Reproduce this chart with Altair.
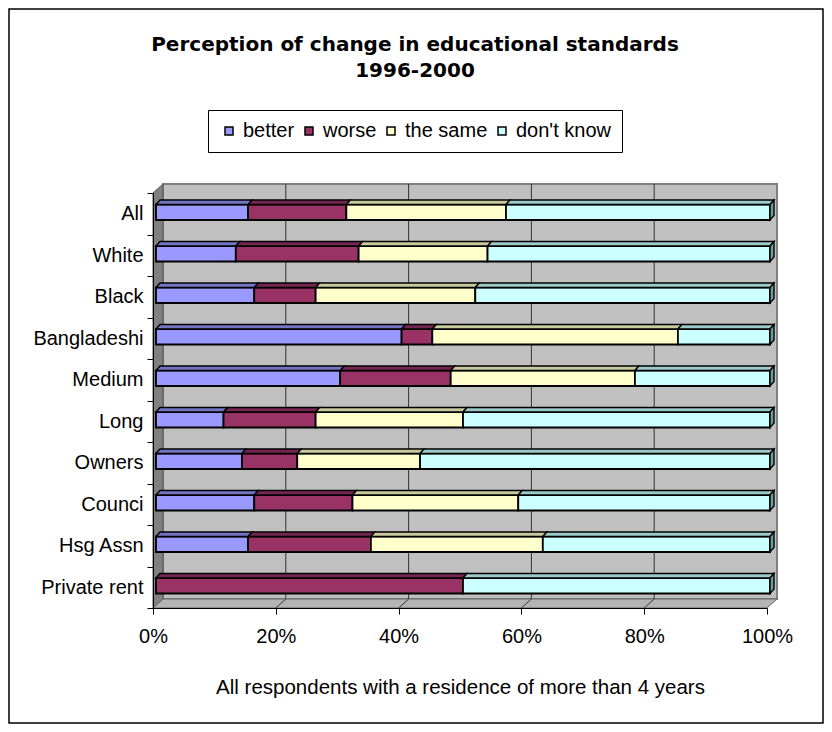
import json
import altair as alt
import pandas as pd

# ---------------- data ----------------
categories = ["All", "White", "Black", "Bangladeshi", "Medium", "Long",
              "Owners", "Counci", "Hsg Assn", "Private rent"]
responses = ["better", "worse", "the same", "don't know"]
better = [15, 13, 16, 40, 30, 11, 14, 16, 15, 0]
worse = [16, 20, 10, 5, 18, 15, 9, 16, 20, 50]
same = [26, 21, 26, 40, 30, 24, 20, 27, 28, 0]
dont_know = [43, 46, 48, 15, 22, 50, 57, 41, 37, 50]
x_ticks = [0, 20, 40, 60, 80, 100]

title_lines = ["Perception of change in educational standards", "1996-2000"]
x_title = "All respondents with a residence of more than 4 years"

# ---------------- style ----------------
front_colors = ["#9999FF", "#993366", "#FFFFCC", "#CCFFFF"]
top_colors = ["#7474C4", "#742650", "#C9C99E", "#9CC9C9"]
side_color = "#6A9C9C"
FONT = "Liberation Sans"

W, H = 614, 415
N = len(categories)
PXX = W / 100.0
PXY = H / N


def ux(px):
    return px / PXX


def uy(px):
    return px / PXY


WALL_DX, WALL_DY = 10, 9          # depth of the 3D box (px)
BAR_SHIFT_X, BAR_SHIFT_Y = 3, -1.5  # front face of bars vs front plane
BAR_H = 15.5
BAR_DX, BAR_DY = 4, 4.5           # depth of the bars

series = [better, worse, same, dont_know]
front_rows, top_rows, side_rows = [], [], []
for i, cat in enumerate(categories):
    cum = 0.0
    yc = i + 0.5 + uy(BAR_SHIFT_Y)
    yt = yc - uy(BAR_H / 2)
    yb = yc + uy(BAR_H / 2)
    last = None
    for s, resp in enumerate(responses):
        v = series[s][i]
        if v <= 0:
            continue
        x0 = cum + ux(BAR_SHIFT_X)
        x1 = cum + v + ux(BAR_SHIFT_X)
        cum += v
        sid = f"{i}-{s}"
        front_rows.append(dict(category=cat, response=resp, value=v,
                               x0=x0, x1=x1, yt=yt, yb=yb))
        top_rows.append(dict(sid=sid, y=yt, x=x0, x2=x1, fill=top_colors[s]))
        top_rows.append(dict(sid=sid, y=yt - uy(BAR_DY), x=x0 + ux(BAR_DX),
                             x2=x1 + ux(BAR_DX), fill=top_colors[s]))
        last = (sid, x1)
    sid, x1 = last
    side_rows.append(dict(sid=sid, x=x1, y=yt, y2=yb))
    side_rows.append(dict(sid=sid, x=x1 + ux(BAR_DX), y=yt - uy(BAR_DY),
                          y2=yb - uy(BAR_DY)))

xs = alt.Scale(domain=[0, 100], nice=False, zero=False)
ys = alt.Scale(domain=[0, N], reverse=True, nice=False, zero=False)

cat_arr = json.dumps(categories)
x_axis = alt.Axis(values=x_ticks, labelExpr="datum.value + '%'", tickSize=6,
                  labelFontSize=20, labelPadding=12, labelFlush=False,
                  grid=False, title=x_title, titleFontSize=20.5,
                  titleFontWeight="normal", titlePadding=31, zindex=1,
                  domainColor="black", tickColor="black",
                  labelColor="black", titleColor="black")
y_axis = alt.Axis(values=list(range(N + 1)),
                  labelExpr=f"datum.value < {N} ? {cat_arr}[datum.value] : ''",
                  labelOffset=PXY / 2, tickSize=6, labelPadding=4,
                  labelFontSize=20, grid=False, title="", zindex=1,
                  domainColor="black", tickColor="black", labelColor="black")


def X(field, stack=None):
    if stack is None:
        return alt.X(field, scale=xs, axis=x_axis)
    return alt.X(field, scale=xs, axis=x_axis, stack=stack)


def Y(field, stack=None):
    if stack is None:
        return alt.Y(field, scale=ys, axis=y_axis)
    return alt.Y(field, scale=ys, axis=y_axis, stack=stack)


# ---------------- walls ----------------
wall_df = pd.DataFrame({"x0": [0], "x1": [100], "y0": [0], "y1": [N]})
back = alt.Chart(wall_df).mark_rect(
    fill="#C0C0C0", stroke="#808080", strokeWidth=2,
    xOffset=WALL_DX, x2Offset=WALL_DX, yOffset=-WALL_DY, y2Offset=-WALL_DY
).encode(x=X("x0:Q"), x2="x1", y=Y("y0:Q"), y2="y1")

grid_df = pd.DataFrame({"x": x_ticks[1:-1], "y0": [0] * 4, "y1": [N] * 4})
grid = alt.Chart(grid_df).mark_rule(
    color="#333333", strokeWidth=1,
    xOffset=WALL_DX, yOffset=-WALL_DY, y2Offset=-WALL_DY
).encode(x=X("x:Q"), y=Y("y0:Q"), y2="y1")

left_df = pd.DataFrame({"x": [0, ux(WALL_DX)], "y": [0, -uy(WALL_DY)],
                        "y2": [N, N - uy(WALL_DY)]})
left = alt.Chart(left_df).mark_area(
    orient="vertical", fill="#808080", stroke="#555555", strokeWidth=1
).encode(x=X("x:Q"), y=Y("y:Q", stack=False), y2="y2")

floor_df = pd.DataFrame({"y": [N, N - uy(WALL_DY)], "x": [0, ux(WALL_DX)],
                         "x2": [100, 100 + ux(WALL_DX)]})
floor = alt.Chart(floor_df).mark_area(
    orient="horizontal", fill="#B4B4B4", stroke="#666666", strokeWidth=1
).encode(y=Y("y:Q"), x=X("x:Q", stack=False), x2="x2")

fg_rows = []
for t in x_ticks[1:-1]:
    fg_rows.append(dict(t=t, x=t, y=N))
    fg_rows.append(dict(t=t, x=t + ux(WALL_DX), y=N - uy(WALL_DY)))
floor_grid = alt.Chart(pd.DataFrame(fg_rows)).mark_line(
    color="#333333", strokeWidth=1
).encode(x=X("x:Q"), y=Y("y:Q"), detail="t:N")

# ---------------- bars ----------------
legend = alt.Legend(orient="none", legendX=55, legendY=-83,
                    direction="horizontal", columns=4, symbolType="square",
                    symbolSize=64, symbolStrokeColor="black",
                    symbolStrokeWidth=1.5, labelFontSize=20, labelFont=FONT,
                    labelColor="black", fillColor="white",
                    strokeColor="black", padding=11, columnPadding=4,
                    labelOffset=4)

front = alt.Chart(pd.DataFrame(front_rows)).mark_rect(
    stroke="black", strokeWidth=1.8
).encode(
    x=X("x0:Q"), x2="x1", y=Y("yt:Q"), y2="yb",
    color=alt.Color("response:N", title=None, legend=legend,
                    scale=alt.Scale(domain=responses, range=front_colors)))

top = alt.Chart(pd.DataFrame(top_rows)).mark_area(
    orient="horizontal", stroke="black", strokeWidth=1.4
).encode(
    y=Y("y:Q"), x=X("x:Q", stack=False), x2="x2",
    fill=alt.Fill("fill:N", scale=None), detail="sid:N")

side = alt.Chart(pd.DataFrame(side_rows)).mark_area(
    orient="vertical", stroke="black", strokeWidth=1.4, fill=side_color
).encode(
    x=X("x:Q"), y=Y("y:Q", stack=False), y2="y2", detail="sid:N")

# ---------------- titles and frame ----------------
t1 = alt.Chart(pd.DataFrame({"t": [title_lines[0]]})).mark_text(
    font="DejaVu Sans", fontSize=20, fontWeight="bold", align="center",
    baseline="alphabetic", color="black"
).encode(text="t:N", x=alt.value(262), y=alt.value(-142))
t2 = alt.Chart(pd.DataFrame({"t": [title_lines[1]]})).mark_text(
    font="DejaVu Sans", fontSize=20, fontWeight="bold", align="center",
    baseline="alphabetic", color="black"
).encode(text="t:N", x=alt.value(262), y=alt.value(-116))

border = alt.Chart(pd.DataFrame({"k": [0]})).mark_rect(
    fillOpacity=0, stroke="black", strokeWidth=1.5
).encode(x=alt.value(-144), x2=alt.value(670),
         y=alt.value(-184), y2=alt.value(530))

chart = alt.layer(
    border, back, grid, left, floor, floor_grid, front, top, side, t1, t2
).properties(
    width=W, height=H,
    padding={"left": 145, "top": 185, "right": 57, "bottom": 116},
    autosize=alt.AutoSizeParams(type="none"),
).configure(font=FONT, background="white").configure_view(strokeWidth=0)

chart.save("out.html", embed_options={"renderer": "svg", "actions": False})
